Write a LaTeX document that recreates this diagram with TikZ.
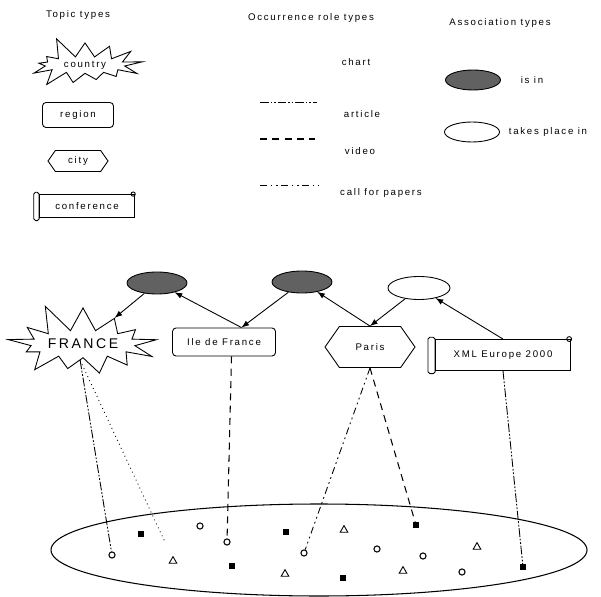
\documentclass[tikz,border=0pt]{standalone}
\usepackage{fontspec}
\newfontfamily\lblfont[LetterSpace=18]{Liberation Sans}
\usetikzlibrary{shapes.symbols,shapes.geometric}

\tikzset{
  lbl/.style={font=\lblfont\fontsize{5.5}{6}\selectfont, inner sep=1pt},
  burst/.style={draw, starburst, starburst points=13, inner sep=0pt, lbl},
  regionbox/.style={draw, rounded corners=2pt, inner sep=0pt, lbl},
  citybox/.style={draw, signal, signal to=west and east, signal pointer angle=110, inner sep=0pt, lbl},
  confbox/.style={draw, rectangle, inner sep=0pt, lbl},
  isin/.style={draw, ellipse, fill=black!62, inner sep=0pt},
  takesplace/.style={draw, ellipse, inner sep=0pt},
  occcircle/.style={draw, circle, inner sep=0pt, minimum size=3.5pt, line width=0.6pt},
  occsquare/.style={fill, rectangle, inner sep=0pt, minimum width=3.8pt, minimum height=3pt},
  occtri/.style={draw, regular polygon, regular polygon sides=3, inner sep=0pt, minimum size=5pt, line width=0.5pt},
  chartline/.style={dotted, line width=0.5pt},
  articleline/.style={dash pattern=on 5pt off 1pt on 1pt off 1pt on 1pt off 1pt, line width=0.5pt},
  videoline/.style={dash pattern=on 4pt off 3pt, line width=0.6pt},
  cfpline/.style={dash pattern=on 4pt off 2pt on 1pt off 2pt on 1pt off 2pt, line width=0.5pt}
}

\begin{document}
\begin{tikzpicture}[x=0.02cm, y=-0.02cm, >=latex, line width=0.5pt]
  \useasboundingbox (0,0) rectangle (601,597);

  % legend: topic types
  \node[lbl] (ttitle) at (78,15) {Topic types};
  \node[burst, starburst point height=0.45cm, random starburst=5,
        minimum width=2.5cm, minimum height=1.2cm] (country) at (85,65) {country};
  \node[regionbox, minimum width=1.42cm, minimum height=0.5cm] (region) at (78,115) {region};
  \node[citybox, minimum width=1.2cm, minimum height=0.42cm] (city) at (78,161) {city};
  \node[confbox, minimum width=1.9cm, minimum height=0.46cm] (conf) at (87,206) {conference};
  \draw[rounded corners=1pt] ([xshift=-3pt,yshift=1pt]conf.north west) rectangle ([yshift=-1.5pt]conf.south west);
  \draw ([xshift=-1pt]conf.north east) circle (1.2pt);

  % legend: occurrence role types
  \node[lbl] (otitle) at (311,18) {Occurrence role types};
  \node[lbl] (chart) at (356,62) {chart};
  \draw[articleline] (260,102) -- (317,102);
  \node[lbl] (article) at (362,114) {article};
  \draw[videoline] (260,139) -- (315,139);
  \node[lbl] (video) at (360,151) {video};
  \draw[cfpline] (260,185) -- (318,185);
  \node[lbl] (cfp) at (381,193) {call for papers};

  % legend: association types
  \node[lbl] (atitle) at (500,23) {Association types};
  \node[isin, minimum width=1.1cm, minimum height=0.4cm] (isinkey) at (473,80) {};
  \node[lbl] at (532,80) {is in};
  \node[takesplace, minimum width=1.1cm, minimum height=0.4cm] (tpkey) at (472,132) {};
  \node[lbl] at (548,132) {takes place in};

  % topics
  \node[burst, starburst point height=0.6cm, random starburst=11,
        minimum width=2.65cm, minimum height=1.75cm,
        font=\lblfont\fontsize{8}{9}\selectfont] (france) at (83,344) {FRANCE};
  \node[regionbox, minimum width=2.06cm, minimum height=0.56cm] (idf) at (224,342) {Ile de France};
  \node[citybox, minimum width=1.8cm, minimum height=0.82cm] (paris) at (370,347) {Paris};
  \node[confbox, minimum width=2.7cm, minimum height=0.62cm] (xml) at (503,355) {XML Europe 2000};
  \draw[rounded corners=1pt] ([xshift=-4pt,yshift=1pt]xml.north west) rectangle ([yshift=-1.5pt]xml.south west);
  \draw ([xshift=-1pt]xml.north east) circle (1.4pt);

  % associations
  \node[isin, minimum width=1.2cm, minimum height=0.44cm] (isin1) at (157,283) {};
  \node[isin, minimum width=1.2cm, minimum height=0.44cm] (isin2) at (302,282) {};
  \node[takesplace, minimum width=1.24cm, minimum height=0.46cm] (tp) at (419,288) {};

  \coordinate (idftop) at ([xshift=0.35cm]idf.north);
  \draw[->] (isin1) -- (france);
  \draw[->] (idftop) -- (isin1);
  \draw[->] (isin2) -- (idftop);
  \draw[->] (paris.north) -- (isin2);
  \draw[->] (tp) -- (paris.north);
  \draw[->] (xml.north) -- (tp);

  % occurrences
  \draw[line width=0.6pt] (319,550) ellipse (268 and 46);
  \node[occcircle] (m1) at (112,555) {};
  \node[occsquare] (m2) at (141,534) {};
  \node[occcircle] (m3) at (200,526) {};
  \node[occtri] (m4) at (173,561) {};
  \node[occcircle] (m5) at (227,542) {};
  \node[occsquare] (m6) at (232,566) {};
  \node[occsquare] (m7) at (286,532) {};
  \node[occtri] (m8) at (285,574) {};
  \node[occcircle] (m9) at (304,553) {};
  \node[occtri] (m10) at (344,530) {};
  \node[occsquare] (m11) at (416,525) {};
  \node[occcircle] (m12) at (377,549) {};
  \node[occcircle] (m13) at (423,556) {};
  \node[occtri] (m14) at (403,571) {};
  \node[occsquare] (m15) at (343,578) {};
  \node[occtri] (m16) at (477,547) {};
  \node[occcircle] (m17) at (462,572) {};
  \node[occsquare] (m18) at (523,567) {};
  \coordinate (chartend) at (165,542);

  \draw[articleline] (france.260) -- (m1);
  \draw[chartline] (france.260) -- (chartend);
  \draw[videoline] ([xshift=0.15cm]idf.south) -- (m5);
  \draw[cfpline] (paris.south) -- (m9);
  \draw[videoline] (paris.south) -- (m11);
  \draw[articleline] (xml.south) -- (m18);
\end{tikzpicture}
\end{document}
